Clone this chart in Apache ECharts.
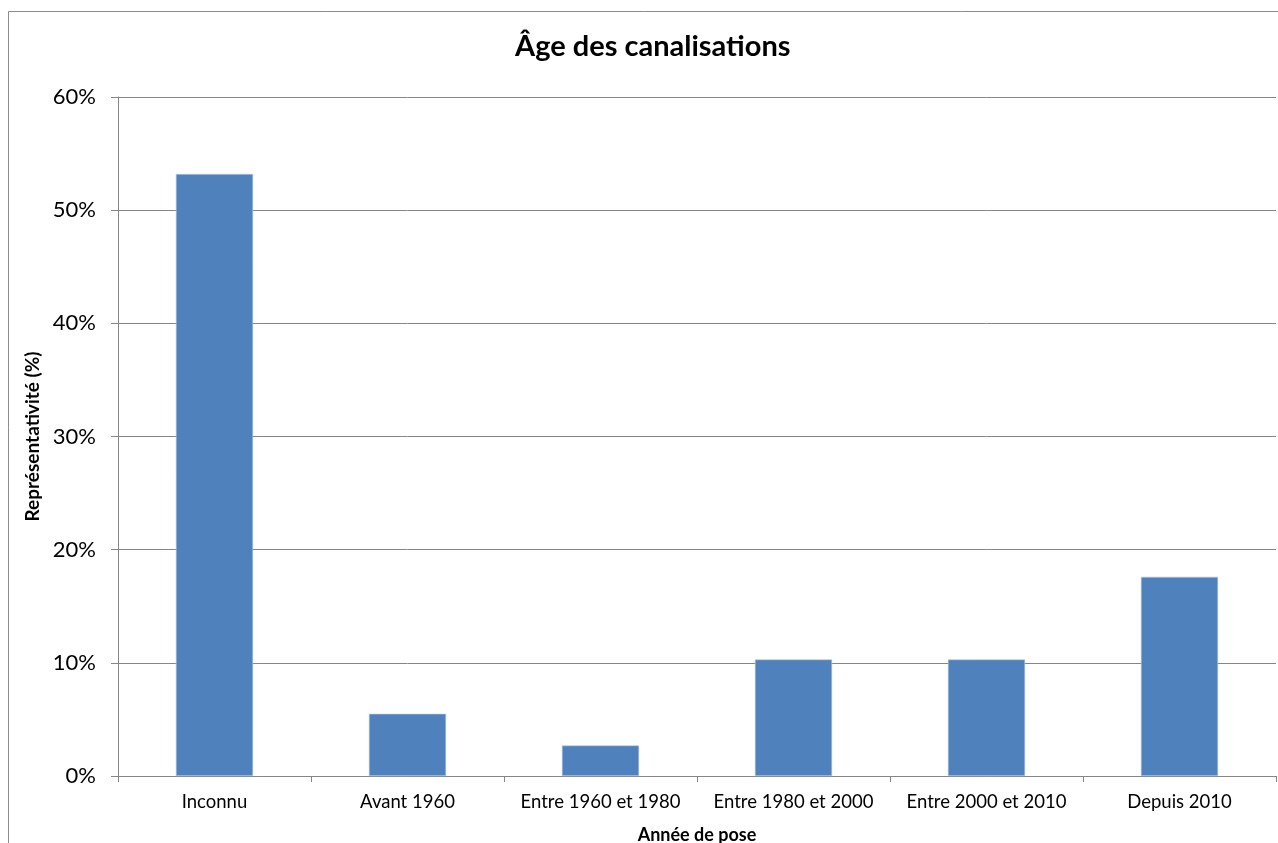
<!DOCTYPE html>
<html>
<head>
<meta charset="utf-8">
<title>Âge des canalisations</title>
<script src="https://cdn.jsdelivr.net/npm/echarts@6/dist/echarts.min.js"></script>
<style>
  html, body { margin: 0; padding: 0; background: #ffffff; }
  #chart { width: 1278px; height: 843px; }
</style>
</head>
<body>
<div id="chart"></div>
<script>
// Pipe age distribution (share of network, %)
const categories = ['Inconnu', 'Avant 1960', 'Entre 1960 et 1980', 'Entre 1980 et 2000', 'Entre 2000 et 2010', 'Depuis 2010'];
const shares = [53.2, 5.5, 2.7, 10.3, 10.3, 17.6];
const yTicks = [0, 10, 20, 30, 40, 50, 60];

const FONT = 'Lato, "Open Sans", sans-serif';
const chart = echarts.init(document.getElementById('chart'), null, { renderer: 'canvas' });

chart.setOption({
  backgroundColor: '#ffffff',
  animation: false,
  title: {
    text: 'Âge des canalisations',
    left: 510,
    top: 27,
    textStyle: { fontFamily: FONT, fontSize: 29, fontWeight: 'bold', color: '#000000' }
  },
  graphic: [{
    // chart frame (runs off the right and bottom edges)
    type: 'rect',
    shape: { x: 8.5, y: 11.5, width: 1300, height: 900 },
    style: { fill: null, stroke: '#8c8c8c', lineWidth: 1 },
    silent: true
  }],
  grid: { left: 118, right: 2, top: 97, bottom: 67, outerBoundsMode: 'none' },
  xAxis: {
    type: 'category',
    data: categories,
    name: 'Année de pose',
    nameLocation: 'middle',
    nameGap: 50,
    nameTextStyle: { fontFamily: FONT, fontSize: 18, fontWeight: 'bold', color: '#000000' },
    axisLine: { show: true, lineStyle: { color: '#868686', width: 1 } },
    axisTick: { show: true, alignWithLabel: false, length: 6, lineStyle: { color: '#868686' } },
    axisLabel: { fontFamily: FONT, fontSize: 18.5, color: '#000000', margin: 17, interval: 0 }
  },
  yAxis: {
    type: 'value',
    min: yTicks[0],
    max: yTicks[yTicks.length - 1],
    interval: 10,
    name: 'Représentativité (%)',
    nameLocation: 'middle',
    nameGap: 74,
    nameTextStyle: { fontFamily: FONT, fontSize: 19, fontWeight: 'bold', color: '#000000' },
    axisLine: { show: true, lineStyle: { color: '#868686', width: 1 } },
    axisTick: { show: true, inside: false, length: 7, lineStyle: { color: '#868686' } },
    axisLabel: { fontFamily: FONT, fontSize: 22, color: '#000000', margin: 22, formatter: v => v + '%' },
    splitLine: { show: true, lineStyle: { color: '#868686', width: 1 } }
  },
  series: [{
    type: 'bar',
    data: shares,
    barWidth: '40%',
    itemStyle: { color: '#4f81bd', borderColor: '#b9cde5', borderWidth: 0.6 }
  }]
});
</script>
</body>
</html>
